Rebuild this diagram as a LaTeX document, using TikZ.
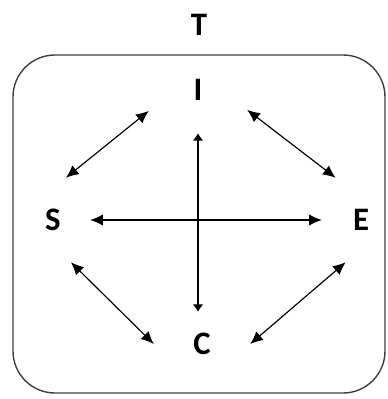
\documentclass[tikz,border=0pt]{standalone}
\usepackage{fontspec}
\setmainfont{Carlito}
\usetikzlibrary{arrows.meta, positioning}

\begin{document}
\begin{tikzpicture}[
    x=0.03cm, y=-0.03cm,
    letter/.style={rectangle, inner sep=0pt, font=\fontsize{28}{33}\selectfont\bfseries},
    frame/.style={rectangle, draw=black!75, line width=1.2pt, rounded corners=1.26cm,
        minimum width=11.16cm, minimum height=10.14cm},
    arr/.style={{Latex[length=0.38cm, width=0.34cm]}-{Latex[length=0.38cm, width=0.34cm]}, line width=1pt},
    stub/.style={{Latex[length=0.22cm, width=0.32cm]}-{Latex[length=0.22cm, width=0.32cm]}, line width=1pt}
]
    \useasboundingbox (0,0) rectangle (387,399);

    % outer box
    \node[frame] (tbox) at (199,224) {};
    \node[letter] (T) at (199,25) {T};

    % the four letters
    \node[letter, minimum width=2.94cm, minimum height=2.58cm] (I) at (198,90) {I};
    \node[letter, minimum width=2.22cm, minimum height=2.52cm] (S) at (53,220) {S};
    \node[letter, minimum width=2.34cm, minimum height=2.52cm] (E) at (361,220) {E};
    \node[letter, minimum width=2.88cm, minimum height=1.92cm] (C) at (202,344) {C};

    % connections
    \draw[arr] (I.203) -- (S.73);
    \draw[arr] (I.338) -- (E.121);
    \draw[arr] (S.293) -- (C.west);
    \draw[arr] (E.250) -- (C.east);
    \draw[arr] (S.east) -- (E.west);
    \draw[stub] (I.south) -- (I.south |- C.north);
\end{tikzpicture}
\end{document}
